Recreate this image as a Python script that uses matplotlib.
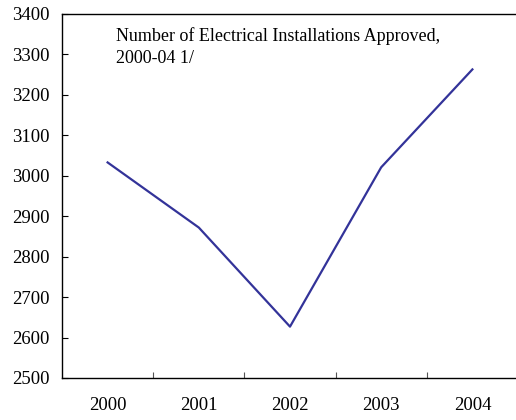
import matplotlib
matplotlib.use("Agg")
import matplotlib.pyplot as plt

years = ["2000", "2001", "2002", "2003", "2004"]
installations = [3033, 2872, 2627, 3021, 3263]
title_text = "Number of Electrical Installations Approved,\n2000-04 1/"

plt.rcParams['font.family'] = ['Liberation Serif', 'DejaVu Serif']

fig = plt.figure(figsize=(5.16, 4.2), dpi=100)
ax = fig.add_axes([62/516, 42/420, 456/516, 364/420])

xs = [i + 0.5 for i in range(len(years))]
ax.plot(xs, installations, color="#333399", lw=1.6)

ax.set_xlim(0, len(years))
ax.set_ylim(2500, 3400)
ax.set_yticks(range(2500, 3401, 100))
ax.set_xticks(range(1, len(years)))
ax.set_xticklabels([])
ax.set_xticks(xs, minor=True)
ax.set_xticklabels(years, minor=True)
ax.tick_params(axis='x', which='major', direction='in', length=4, width=0.8, color='#555555')
ax.tick_params(axis='x', which='minor', length=0, pad=14, labelsize=13.5)
ax.tick_params(axis='y', direction='in', length=4, width=0.8, pad=9, labelsize=13.5)

for s in ['left', 'bottom', 'top']:
    ax.spines[s].set_linewidth(1.0)
ax.spines['right'].set_visible(False)

ax.text((116 - 62)/456, 1 - (27-14)/364, title_text,
        transform=ax.transAxes, ha='left', va='top', fontsize=13, linespacing=1.38)

fig.savefig("out.png", dpi=100)
